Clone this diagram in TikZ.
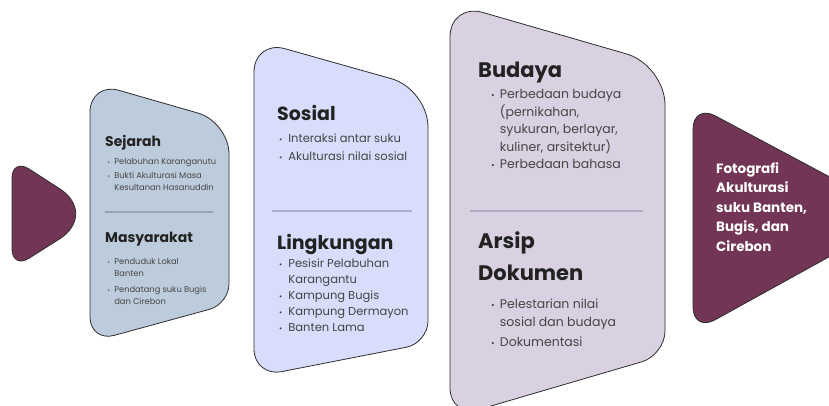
\documentclass[tikz,border=0pt]{standalone}
\usepackage{fontspec}
\setmainfont{Poppins}
\usetikzlibrary{calc}
\definecolor{plum}{HTML}{733555}
\definecolor{steel}{HTML}{BDCCDC}
\definecolor{lav}{HTML}{D8DDFB}
\definecolor{lilac}{HTML}{D9D1E1}
\definecolor{outl}{HTML}{2E2E2E}
\definecolor{headc}{HTML}{222222}
\definecolor{bodyc}{HTML}{454545}
\definecolor{divA}{HTML}{97A3B1}
\definecolor{divB}{HTML}{ABB0CE}
\definecolor{divC}{HTML}{B4ABC0}
\newcommand\bu{\makebox[0.8em][l]{\scalebox{0.7}{\textbullet}}}
\newcommand\ii{\hspace*{0.8em}}
\newcommand\bv{\makebox[0.7em][l]{\scalebox{0.7}{\textbullet}}}
\newcommand\iv{\hspace*{0.7em}}
\tikzset{
  corner/.style n args={4}{insert path={-- ($(#2)!#4!(#1)$) .. controls ($(#2)!{#4*0.45}!(#1)$) and ($(#2)!{#4*0.45}!(#3)$) .. ($(#2)!#4!(#3)$)}},
  shp/.style={draw=outl, line width=0.8pt},
  divline/.style={line width=1.1pt},
  hd/.style={inner sep=0pt, anchor=base west, text=headc, align=left},
  bd/.style={inner sep=0pt, anchor=base west, text=bodyc, align=left},
}
\begin{document}
\begin{tikzpicture}[x=1pt,y=-1pt]
\useasboundingbox (0,0) rectangle (829,405);
\clip (0,0) rectangle (829,405);
% shape 1
\coordinate (a1) at (12,158);
\coordinate (b1) at (99,214);
\coordinate (c1) at (12,269);
\path[shp, fill=plum] ($(a1)!20pt!(b1)$) [corner={a1}{b1}{c1}{47pt}] [corner={b1}{c1}{a1}{20pt}] [corner={c1}{a1}{b1}{20pt}] -- cycle;
% shape 2
\coordinate (a2) at (90,82);
\coordinate (b2) at (229,122);
\coordinate (c2) at (229,304);
\coordinate (d2) at (90,342);
\path[shp, fill=steel] ($(a2)!30pt!(b2)$) [corner={a2}{b2}{c2}{32pt}] [corner={b2}{c2}{d2}{20pt}] [corner={c2}{d2}{a2}{25pt}] [corner={d2}{a2}{b2}{30pt}] -- cycle;
% shape 3
\coordinate (a3) at (254,40);
\coordinate (b3) at (428,89);
\coordinate (c3) at (428,343);
\coordinate (d3) at (254,377);
\path[shp, fill=lav] ($(a3)!32pt!(b3)$) [corner={a3}{b3}{c3}{38pt}] [corner={b3}{c3}{d3}{22pt}] [corner={c3}{d3}{a3}{28pt}] [corner={d3}{a3}{b3}{32pt}] -- cycle;
% shape 4
\coordinate (a4) at (450,3);
\coordinate (b4) at (665,65);
\coordinate (c4) at (665,355);
\coordinate (d4) at (450,418);
\path[shp, fill=lilac] ($(a4)!34pt!(b4)$) [corner={a4}{b4}{c4}{40pt}] [corner={b4}{c4}{d4}{24pt}] [corner={c4}{d4}{a4}{30pt}] [corner={d4}{a4}{b4}{34pt}] -- cycle;
% shape 5
\coordinate (a5) at (693,104);
\coordinate (b5) at (903,216);
\coordinate (c5) at (693,332);
\path[shp, fill=plum] ($(a5)!25pt!(b5)$) [corner={a5}{b5}{c5}{30pt}] [corner={b5}{c5}{a5}{25pt}] [corner={c5}{a5}{b5}{25pt}] -- cycle;
% dividers
\draw[divline, divA] (105,212) coordinate (dv2a) -- (213,212) coordinate (dv2b);
\draw[divline, divB] (272,211) coordinate (dv3a) -- (412,211) coordinate (dv3b);
\draw[divline, divC] (470,211) coordinate (dv4a) -- (643,211) coordinate (dv4b);
% shape 2 text (multi-line nodes are anchored at their last baseline)
\node[hd, font=\fontsize{14}{16}\selectfont\bfseries] (sej) at (105,146) {Sejarah};
\node[bd, font=\fontsize{8.3}{12.5}\selectfont] (sejl) at (107.5,190.5) {\bu Pelabuhan Karanganutu\\[1pt]\bu Bukti Akulturasi Masa\\\ii Kesultanan Hasanuddin};
\node[hd, font=\fontsize{14}{16}\selectfont\bfseries] (mas) at (105,242) {Masyarakat};
\node[bd, font=\fontsize{8.3}{12}\selectfont] (masl) at (107.5,304.5) {\bu Penduduk Lokal\\\ii Banten\\[4pt]\bu Pendatang suku Bugis\\\ii dan Cirebon};
% shape 3 text
\node[hd, font=\fontsize{19}{22}\selectfont\bfseries] (sos) at (277,120) {Sosial};
\node[bd, font=\fontsize{11.5}{18}\selectfont] (sosl) at (279,160) {\bu Interaksi antar suku\\\bu Akulturasi nilai sosial};
\node[hd, font=\fontsize{19}{22}\selectfont\bfseries] (lin) at (277,249) {Lingkungan};
\node[bd, font=\fontsize{11.5}{16}\selectfont] (linl) at (279,331) {\bu Pesisir Pelabuhan\\\ii Karangantu\\\bu Kampung Bugis\\\bu Kampung Dermayon\\\bu Banten Lama};
% shape 4 text
\node[hd, font=\fontsize{21}{24}\selectfont\bfseries] (bud) at (478,77) {Budaya};
\node[bd, font=\fontsize{12.5}{17.5}\selectfont] (budl) at (491,168.5) {\bv Perbedaan budaya\\\iv (pernikahan,\\\iv syukuran, berlayar,\\\iv kuliner, arsitektur)\\\bv Perbedaan bahasa};
\node[hd, font=\fontsize{21}{32}\selectfont\bfseries] (ars) at (478,280) {Arsip\\Dokumen};
\node[bd, font=\fontsize{12.5}{18}\selectfont] (arsl) at (491,346) {\bv Pelestarian nilai\\\iv sosial dan budaya\\[2pt]\bv Dokumentasi};
% shape 5 text
\node[inner sep=0pt, anchor=base west, align=left, text=white, font=\fontsize{13.5}{19.5}\selectfont\bfseries] (foto) at (716,251) {Fotografi\\Akulturasi\\suku Banten,\\Bugis, dan\\Cirebon};
\end{tikzpicture}
\end{document}
